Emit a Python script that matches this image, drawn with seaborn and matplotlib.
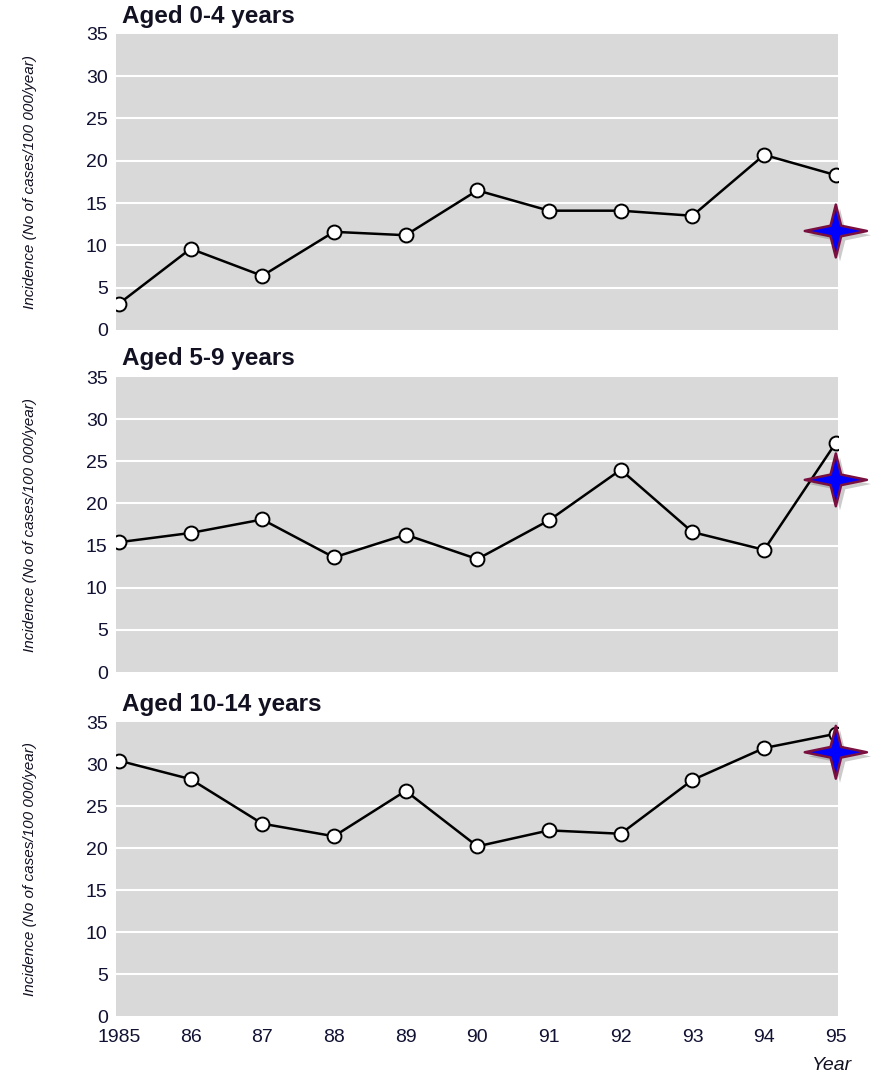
import matplotlib
matplotlib.use("Agg")
import matplotlib.pyplot as plt
import matplotlib.patheffects as pe
from matplotlib.path import Path
import seaborn as sns
import pandas as pd

years = [1985, 1986, 1987, 1988, 1989, 1990, 1991, 1992, 1993, 1994, 1995]
year_labels = ["1985", "86", "87", "88", "89", "90", "91", "92", "93", "94", "95"]
titles = ["Aged 0-4 years", "Aged 5-9 years", "Aged 10-14 years"]
aged_0_4 = [3.1, 9.6, 6.4, 11.6, 11.2, 16.5, 14.1, 14.1, 13.5, 20.7, 18.3]
aged_5_9 = [15.4, 16.5, 18.1, 13.6, 16.3, 13.4, 18.0, 24.0, 16.6, 14.5, 27.2]
aged_10_14 = [30.4, 28.2, 22.9, 21.4, 26.8, 20.2, 22.1, 21.7, 28.1, 31.9, 33.6]
star_values = [11.7, 22.8, 31.4]
series = [aged_0_4, aged_5_9, aged_10_14]

sns.set_style("white", {"axes.facecolor": "#d9d9d9"})
plt.rcParams["font.family"] = ["Liberation Sans", "DejaVu Sans"]

# four pointed star marker
r = 0.17
star = Path([(1, 0), (r, r), (0, 0.85), (-r, r), (-1, 0), (-r, -r), (0, -0.85), (r, -r), (1, 0)],
            [Path.MOVETO] + [Path.LINETO] * 7 + [Path.CLOSEPOLY])

fig = plt.figure(figsize=(8.71, 10.73), dpi=100)
positions = [(0.1332, 0.6925, 0.8289, 0.2759),
             (0.1332, 0.3737, 0.8289, 0.2749),
             (0.1332, 0.0531, 0.8289, 0.2740)]
title_y = [17, 358, 704]

for i, vals in enumerate(series):
    ax = fig.add_axes(positions[i])
    df = pd.DataFrame({"year": years, "incidence": vals})
    sns.lineplot(data=df, x="year", y="incidence", ax=ax, color="black", lw=1.8,
                 marker="o", markersize=10, markerfacecolor="white",
                 markeredgecolor="black", markeredgewidth=1.4, zorder=3)
    ax.scatter([1995], [star_values[i]], marker=star, s=2000, facecolor="#0000ff",
               edgecolor="#7a1040", linewidth=1.8, clip_on=False, zorder=5,
               path_effects=[pe.SimplePatchShadow(offset=(3, -3), shadow_rgbFace="#555555", alpha=0.3),
                             pe.Normal()])
    ax.set_xlim(1984.96, 1995.03)
    ax.set_ylim(0, 35)
    ax.set_yticks(range(0, 36, 5))
    ax.set_yticklabels([str(v) for v in range(0, 36, 5)], fontsize=14, color="#111133")
    for v in range(5, 35, 5):
        ax.axhline(v, color="white", lw=1.5, zorder=1)
    ax.set_xticks(years)
    ax.tick_params(axis="x", direction="in", length=7, width=1.3, color="white", pad=9)
    ax.tick_params(axis="y", length=0, pad=6)
    if i == 2:
        ax.set_xticklabels(year_labels, fontsize=14, color="#111133")
    else:
        ax.set_xticklabels([])
    for s in ax.spines.values():
        s.set_visible(False)
    ax.set_xlabel("")
    ax.set_ylabel("")
    fig.text(122 / 871, 1 - title_y[i] / 1073, titles[i], fontsize=17.5, fontweight="bold",
             va="center", ha="left", color="#111122")
    y0, h = positions[i][1], positions[i][3]
    fig.text(30 / 871, y0 + h / 2, "Incidence (No of cases/100 000/year)", rotation=90,
             fontsize=11, fontstyle="italic", va="center", ha="center", color="#111122")

fig.text(832 / 871, 1 - 1066 / 1073, "Year", fontsize=14, fontstyle="italic",
         ha="center", va="center", color="#111122")

fig.savefig("out.png", dpi=100)
